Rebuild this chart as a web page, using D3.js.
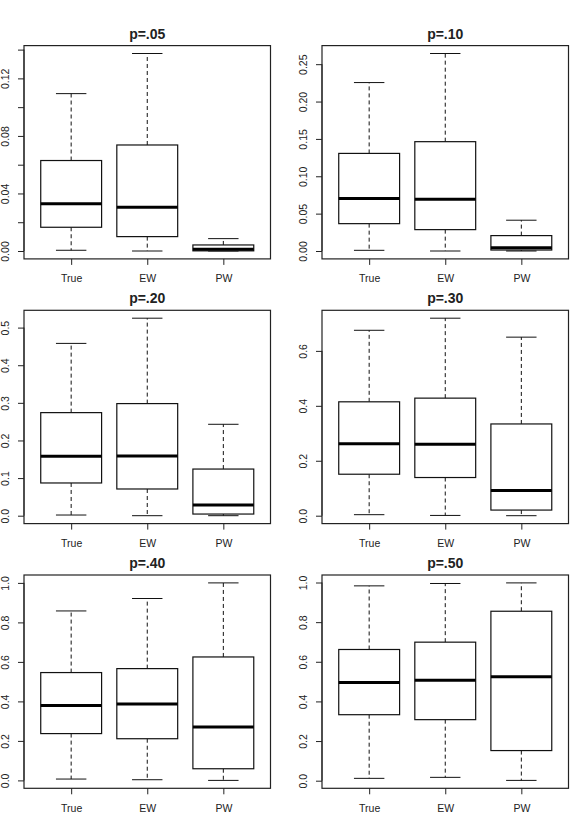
<!DOCTYPE html>
<html>
<head>
<meta charset="utf-8">
<script src="https://cdn.jsdelivr.net/npm/d3@7"></script>
<style>
  body{margin:0;background:#fff;}
  svg text{font-family:"Liberation Sans",Arial,Helvetica,sans-serif;fill:#222;}
</style>
</head>
<body>
<div class="let"></div>
<script>
let w=572, h=821
let titles=['p=.05','p=.10','p=.20','p=.30','p=.40','p=.50']
let groups=['True','EW','PW']
// per panel, per group: lower whisker, q1, median, q3, upper whisker
let lowWhisker=[[0.0005,0,0],[0.0009,0,0],[0.0018,0,0],[0.0037,0.001,0],[0.0068,0.0034,0],[0.0118,0.0169,0.0015]]
let q1=[[0.0165,0.0100,0.0001],[0.0366,0.0286,0.0013],[0.087,0.071,0.0044],[0.151,0.139,0.0205],[0.237,0.211,0.059],[0.333,0.308,0.152]]
let medians=[[0.0328,0.0305,0.0012],[0.0702,0.0693,0.0045],[0.158,0.159,0.0284],[0.262,0.260,0.0915],[0.379,0.387,0.270],[0.495,0.507,0.524]]
let q3=[[0.0629,0.0737,0.0042],[0.1306,0.1463,0.0206],[0.274,0.298,0.124],[0.4146,0.428,0.334],[0.546,0.566,0.625],[0.662,0.699,0.855]]
let highWhisker=[[0.1094,0.1373,0.0086],[0.2254,0.2643,0.0412],[0.458,0.525,0.243],[0.675,0.719,0.650],[0.858,0.921,1.0],[0.983,0.995,0.998]]
let yTicks=[[0,0.02,0.04,0.06,0.08,0.10,0.12,0.14],[0,0.05,0.10,0.15,0.20,0.25],[0,0.1,0.2,0.3,0.4,0.5],[0,0.2,0.4,0.6],[0,0.2,0.4,0.6,0.8,1.0],[0,0.2,0.4,0.6,0.8,1.0]]
let yLabels=[['0.00','','0.04','','0.08','','0.12',''],['0.00','0.05','0.10','0.15','0.20','0.25'],['0.0','0.1','0.2','0.3','0.4','0.5'],['0.0','0.2','0.4','0.6'],['0.0','0.2','0.4','0.6','0.8','1.0'],['0.0','0.2','0.4','0.6','0.8','1.0']]

let lefts=[24,322]
let tops=[45.6,310.3,575]
let pw=246.5, ph=213.3

let svg=d3.select('.let').append('svg').attr('width',w).attr('height',h)

titles.forEach((t,p)=>{
    let x0=lefts[p%2], y0=tops[Math.floor(p/2)]
    let g=svg.append('g').attr('transform','translate('+x0+','+y0+')')
    let lo=d3.min(lowWhisker[p]), hi=d3.max(highWhisker[p])
    let pad=(hi-lo)*0.04
    let yScale=d3.scaleLinear().domain([lo-pad,hi+pad]).range([ph,0])
    let xScale=d3.scaleLinear().domain([0.38,3.62]).range([0,pw])

    groups.forEach((gr,i)=>{
        let cx=xScale(i+1)
        let bw=xScale(1.4)-xScale(1)
        let cw=xScale(1.2)-xScale(1)
        // whiskers
        g.append('line').attr('x1',cx).attr('x2',cx).attr('y1',yScale(q3[p][i])).attr('y2',yScale(highWhisker[p][i]))
            .attr('stroke','#111').attr('stroke-dasharray','4,3')
        g.append('line').attr('x1',cx).attr('x2',cx).attr('y1',yScale(q1[p][i])).attr('y2',yScale(lowWhisker[p][i]))
            .attr('stroke','#111').attr('stroke-dasharray','4,3')
        g.append('line').attr('x1',cx-cw).attr('x2',cx+cw).attr('y1',yScale(highWhisker[p][i])).attr('y2',yScale(highWhisker[p][i])).attr('stroke','#111')
        g.append('line').attr('x1',cx-cw).attr('x2',cx+cw).attr('y1',yScale(lowWhisker[p][i])).attr('y2',yScale(lowWhisker[p][i])).attr('stroke','#111')
        // box
        g.append('rect').attr('x',cx-bw).attr('width',bw*2)
            .attr('y',yScale(q3[p][i])).attr('height',yScale(q1[p][i])-yScale(q3[p][i]))
            .attr('fill','#fff').attr('stroke','#111').attr('stroke-width',1.2)
        g.append('line').attr('x1',cx-bw).attr('x2',cx+bw).attr('y1',yScale(medians[p][i])).attr('y2',yScale(medians[p][i]))
            .attr('stroke','#000').attr('stroke-width',3)
    })

    // frame
    g.append('rect').attr('width',pw).attr('height',ph).attr('fill','none').attr('stroke','#222').attr('stroke-width',1.2)

    // y axis
    let yAxis=d3.axisLeft(yScale).tickValues(yTicks[p]).tickSize(6).tickFormat((d,i)=>yLabels[p][i])
    let ya=g.append('g').call(yAxis)
    ya.select('.domain').attr('d','M0,'+yScale(yTicks[p][0])+'V'+yScale(yTicks[p][yTicks[p].length-1])).attr('stroke','#222')
    ya.selectAll('.tick line').attr('stroke','#222')
    ya.selectAll('.tick text').attr('transform','rotate(-90)').attr('x',0).attr('y',-19).attr('dy','0.35em')
        .attr('text-anchor','middle').style('font-size','10.5px').attr('fill','#222')

    // x axis
    let xAxis=d3.axisBottom(xScale).tickValues([1,2,3]).tickSize(6).tickFormat((d)=>groups[d-1])
    let xa=g.append('g').attr('transform','translate(0,'+ph+')').call(xAxis)
    xa.select('.domain').remove()
    xa.selectAll('.tick line').attr('stroke','#222')
    xa.selectAll('.tick text').attr('y',16).attr('dy','0.71em').style('font-size','10.5px').attr('fill','#222')

    g.append('text').attr('x',pw/2).attr('y',-7).attr('text-anchor','middle')
        .style('font-size','14px').style('font-weight','bold').attr('fill','#111').text(t)
})
</script>
</body>
</html>
